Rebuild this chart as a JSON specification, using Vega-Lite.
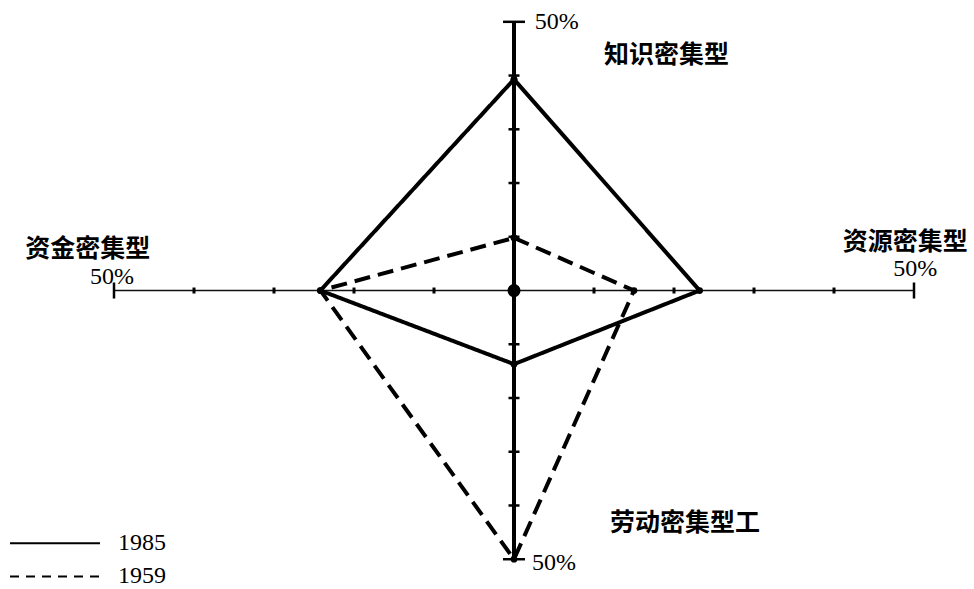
{
  "$schema": "https://vega.github.io/schema/vega-lite/v6.json",
  "width": 974,
  "height": 589,
  "autosize": {"type": "fit", "contains": "padding"},
  "padding": 0,
  "background": "white",
  "config": {"view": {"stroke": null}},
  "resolve": {"scale": {"strokeDash": "independent"}},
  "datasets": {
    "polys": [
      {"series": "1985", "order": 1, "x": 0, "y": 39.3},
      {"series": "1985", "order": 2, "x": 23.2, "y": 0},
      {"series": "1985", "order": 3, "x": 0, "y": -13.7},
      {"series": "1985", "order": 4, "x": -24.2, "y": 0},
      {"series": "1985", "order": 5, "x": 0, "y": 39.3},
      {"series": "1959", "order": 1, "x": 0, "y": 9.8},
      {"series": "1959", "order": 2, "x": 15, "y": 0},
      {"series": "1959", "order": 3, "x": 0, "y": -50},
      {"series": "1959", "order": 4, "x": -24.2, "y": 0},
      {"series": "1959", "order": 5, "x": 0, "y": 9.8}
    ],
    "axes": [
      {"axis": "h", "x": -50, "x2": 50, "y": 0, "y2": 0},
      {"axis": "v", "x": 0, "x2": 0, "y": -50, "y2": 50}
    ],
    "ticks": [
      {"axis": "v", "x": 0, "y": 10}, {"axis": "v", "x": 0, "y": 20},
      {"axis": "v", "x": 0, "y": 30}, {"axis": "v", "x": 0, "y": 40},
      {"axis": "v", "x": 0, "y": -10}, {"axis": "v", "x": 0, "y": -20},
      {"axis": "v", "x": 0, "y": -30}, {"axis": "v", "x": 0, "y": -40},
      {"axis": "h", "x": 10, "y": 0}, {"axis": "h", "x": 20, "y": 0},
      {"axis": "h", "x": 30, "y": 0}, {"axis": "h", "x": 40, "y": 0},
      {"axis": "h", "x": -10, "y": 0}, {"axis": "h", "x": -20, "y": 0},
      {"axis": "h", "x": -30, "y": 0}, {"axis": "h", "x": -40, "y": 0}
    ],
    "caps": [
      {"axis": "v", "x": 0, "y": 50}, {"axis": "v", "x": 0, "y": -50},
      {"axis": "h", "x": 50, "y": 0}, {"axis": "h", "x": -50, "y": 0}
    ],
    "titles": [
      {"text": "知识密集型", "x": 11.25, "y": 43.9},
      {"text": "资金密集型", "x": -61.1, "y": 7.8},
      {"text": "资源密集型", "x": 41.1, "y": 9.1},
      {"text": "劳动密集型工", "x": 12, "y": -43.2}
    ],
    "pct": [
      {"text": "50%", "x": 2.6, "y": 50},
      {"text": "50%", "x": -53, "y": 2.5},
      {"text": "50%", "x": 47.4, "y": 4.0},
      {"text": "50%", "x": 2.25, "y": -50.7}
    ],
    "legend": [
      {"series": "1985", "x": -63, "x2": -51.75, "y": -47.05},
      {"series": "1959", "x": -63, "x2": -51.75, "y": -53.2}
    ]
  },
  "layer": [
    {
      "data": {"name": "axes"},
      "transform": [{"filter": "datum.axis === 'h'"}],
      "mark": {"type": "rule", "color": "#111", "strokeWidth": 1.5},
      "encoding": {
        "x": {"field": "x", "type": "quantitative", "scale": {"domain": [-64.25, 57.5], "nice": false, "zero": false}, "axis": null},
        "x2": {"field": "x2"},
        "y": {"field": "y", "type": "quantitative", "scale": {"domain": [-54.61, 54.06], "nice": false, "zero": false}, "axis": null},
        "y2": {"field": "y2"}
      }
    },
    {
      "data": {"name": "axes"},
      "transform": [{"filter": "datum.axis === 'v'"}],
      "mark": {"type": "rule", "color": "#000", "strokeWidth": 4},
      "encoding": {
        "x": {"field": "x", "type": "quantitative", "axis": null},
        "x2": {"field": "x2"},
        "y": {"field": "y", "type": "quantitative", "axis": null},
        "y2": {"field": "y2"}
      }
    },
    {
      "data": {"name": "ticks"},
      "transform": [{"filter": "datum.axis === 'v'"}],
      "mark": {"type": "tick", "orient": "horizontal", "size": 11, "thickness": 2.5, "color": "#000", "opacity": 1},
      "encoding": {
        "x": {"field": "x", "type": "quantitative", "axis": null},
        "y": {"field": "y", "type": "quantitative", "axis": null}
      }
    },
    {
      "data": {"name": "ticks"},
      "transform": [{"filter": "datum.axis === 'h'"}],
      "mark": {"type": "tick", "orient": "vertical", "size": 6, "thickness": 3, "color": "#000", "opacity": 1},
      "encoding": {
        "x": {"field": "x", "type": "quantitative", "axis": null},
        "y": {"field": "y", "type": "quantitative", "axis": null}
      }
    },
    {
      "data": {"name": "caps"},
      "transform": [{"filter": "datum.axis === 'v'"}],
      "mark": {"type": "tick", "orient": "horizontal", "size": 22, "thickness": 2.5, "color": "#000", "opacity": 1},
      "encoding": {
        "x": {"field": "x", "type": "quantitative", "axis": null},
        "y": {"field": "y", "type": "quantitative", "axis": null}
      }
    },
    {
      "data": {"name": "caps"},
      "transform": [{"filter": "datum.axis === 'h'"}],
      "mark": {"type": "tick", "orient": "vertical", "size": 16, "thickness": 2.5, "color": "#000", "opacity": 1},
      "encoding": {
        "x": {"field": "x", "type": "quantitative", "axis": null},
        "y": {"field": "y", "type": "quantitative", "axis": null}
      }
    },
    {
      "data": {"name": "polys"},
      "mark": {"type": "line", "color": "#000", "strokeWidth": 4, "strokeJoin": "miter"},
      "encoding": {
        "x": {"field": "x", "type": "quantitative", "axis": null},
        "y": {"field": "y", "type": "quantitative", "axis": null},
        "order": {"field": "order"},
        "strokeDash": {
          "field": "series",
          "type": "nominal",
          "scale": {"domain": ["1985", "1959"], "range": [[1, 0], [16, 8]]},
          "legend": null
        }
      }
    },
    {
      "data": {"name": "polys"},
      "mark": {"type": "point", "filled": true, "color": "#000", "size": 45, "opacity": 1},
      "encoding": {
        "x": {"field": "x", "type": "quantitative", "axis": null},
        "y": {"field": "y", "type": "quantitative", "axis": null}
      }
    },
    {
      "data": {"values": [{"x": 0, "y": 0}]},
      "mark": {"type": "point", "filled": true, "color": "#000", "size": 170, "opacity": 1},
      "encoding": {
        "x": {"field": "x", "type": "quantitative", "axis": null},
        "y": {"field": "y", "type": "quantitative", "axis": null}
      }
    },
    {
      "data": {"name": "legend"},
      "mark": {"type": "rule", "color": "#000", "strokeWidth": 2},
      "encoding": {
        "x": {"field": "x", "type": "quantitative", "axis": null},
        "x2": {"field": "x2"},
        "y": {"field": "y", "type": "quantitative", "axis": null},
        "strokeDash": {
          "field": "series",
          "type": "nominal",
          "scale": {"domain": ["1985", "1959"], "range": [[1, 0], [9, 7]]},
          "legend": null
        }
      }
    },
    {
      "data": {"name": "legend"},
      "mark": {"type": "text", "align": "left", "baseline": "middle", "dx": 18, "font": "Liberation Serif", "fontSize": 24, "color": "#000"},
      "encoding": {
        "x": {"field": "x2", "type": "quantitative", "axis": null},
        "y": {"field": "y", "type": "quantitative", "axis": null},
        "text": {"field": "series"}
      }
    },
    {
      "data": {"name": "titles"},
      "mark": {"type": "text", "align": "left", "baseline": "middle", "font": "Noto Sans CJK SC", "fontWeight": "bold", "fontSize": 25, "color": "#000"},
      "encoding": {
        "x": {"field": "x", "type": "quantitative", "axis": null},
        "y": {"field": "y", "type": "quantitative", "axis": null},
        "text": {"field": "text"}
      }
    },
    {
      "data": {"name": "pct"},
      "mark": {"type": "text", "align": "left", "baseline": "middle", "font": "Liberation Serif", "fontSize": 24, "color": "#000"},
      "encoding": {
        "x": {"field": "x", "type": "quantitative", "axis": null},
        "y": {"field": "y", "type": "quantitative", "axis": null},
        "text": {"field": "text"}
      }
    }
  ]
}
